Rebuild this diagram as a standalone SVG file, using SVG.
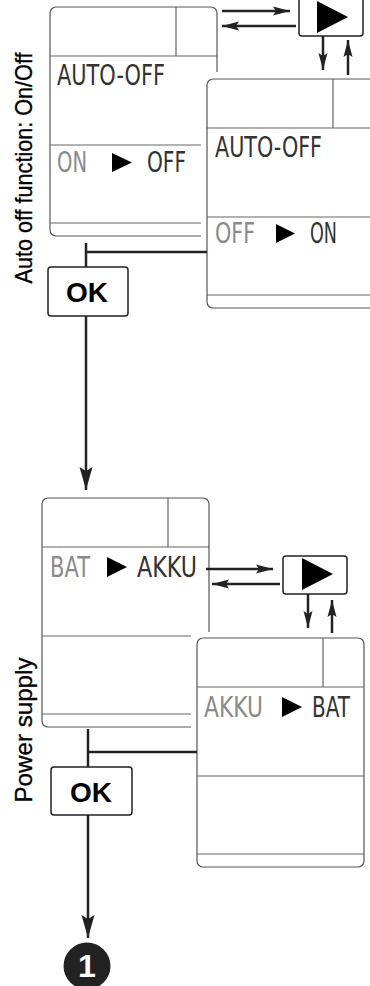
<svg xmlns="http://www.w3.org/2000/svg" width="370" height="986" viewBox="0 0 370 986">
<style>
.lcd{fill:#fff;stroke:#555;stroke-width:1.2}
.ln{stroke:#666;stroke-width:1.2;fill:none}
.halo{fill:#fff;stroke:none}
.seg{font-family:"DejaVu Sans",sans-serif;font-size:29px;fill:#333}
.dim{fill:#8a8a8a}
.tri{fill:#000}
.btn{fill:#fff;stroke:#222;stroke-width:1.5}
.ok{font-family:"Liberation Sans",Arial,sans-serif;font-weight:bold;font-size:28px;fill:#000;text-anchor:middle}
.lab{font-family:"Liberation Sans",Arial,sans-serif;font-size:24px;fill:#000;stroke:#000;stroke-width:0.3;text-anchor:middle}
.c{stroke:#222;stroke-width:2.5;fill:none}
</style>
<defs>
<marker id="as" markerUnits="userSpaceOnUse" markerWidth="18" markerHeight="10" refX="17" refY="5" orient="auto">
<path d="M0,0.5 L17,5 L0,9.5 L3,5 Z" fill="#222"/>
</marker>
<marker id="al" markerUnits="userSpaceOnUse" markerWidth="24" markerHeight="14" refX="23" refY="7" orient="auto">
<path d="M0,0.5 L23,7 L0,13.5 L4,7 Z" fill="#222"/>
</marker>
</defs>

<text class="lab" transform="translate(32,168) rotate(-90)" textLength="231" lengthAdjust="spacingAndGlyphs">Auto off function: On/Off</text>
<text class="lab" transform="translate(32,730) rotate(-90)" textLength="145" lengthAdjust="spacingAndGlyphs">Power supply</text>

<g id="lcd-auto-on">
<rect class="lcd" x="50" y="7" width="167" height="229" rx="6"/>
<line class="ln" x1="50" y1="56" x2="217" y2="56"/>
<line class="ln" x1="176" y1="7" x2="176" y2="56"/>
<line class="ln" x1="50" y1="145" x2="217" y2="145"/>
<line class="ln" x1="50" y1="223" x2="217" y2="223"/>
<text class="seg" x="57" y="85" textLength="108" lengthAdjust="spacingAndGlyphs">AUTO-OFF</text>
<text class="seg dim" x="57" y="172" textLength="30" lengthAdjust="spacingAndGlyphs">ON</text>
<polygon class="tri" points="112,153 132,162.5 112,172"/>
<text class="seg" x="147" y="172" textLength="39" lengthAdjust="spacingAndGlyphs">OFF</text>
</g>

<g id="lcd-auto-off">
<rect class="halo" x="201" y="72" width="180" height="243"/>
<rect class="lcd" x="207" y="79" width="175" height="229" rx="6"/>
<line class="ln" x1="207" y1="128" x2="382" y2="128"/>
<line class="ln" x1="333" y1="79" x2="333" y2="128"/>
<line class="ln" x1="207" y1="217" x2="382" y2="217"/>
<line class="ln" x1="207" y1="295" x2="382" y2="295"/>
<text class="seg" x="215" y="157" textLength="107" lengthAdjust="spacingAndGlyphs">AUTO-OFF</text>
<text class="seg dim" x="215" y="243" textLength="40" lengthAdjust="spacingAndGlyphs">OFF</text>
<polygon class="tri" points="276,224 295,233.5 276,243"/>
<text class="seg" x="310" y="243" textLength="27" lengthAdjust="spacingAndGlyphs">ON</text>
</g>

<g id="play-top">
<rect class="btn" x="299" y="-4" width="64" height="40" rx="3"/>
<polygon class="tri" points="317,1 348,17 317,33"/>
</g>

<g id="ok-top">
<rect class="btn" x="48" y="267" width="80" height="49" rx="3"/>
<text class="ok" x="87" y="302">OK</text>
</g>

<g id="lcd-bat-akku">
<rect class="lcd" x="42" y="498" width="167" height="229" rx="6"/>
<line class="ln" x1="42" y1="547" x2="209" y2="547"/>
<line class="ln" x1="168" y1="498" x2="168" y2="547"/>
<line class="ln" x1="42" y1="636" x2="209" y2="636"/>
<line class="ln" x1="42" y1="714" x2="209" y2="714"/>
<text class="seg dim" x="50" y="577" textLength="40" lengthAdjust="spacingAndGlyphs">BAT</text>
<polygon class="tri" points="107,557 127,567 107,577"/>
<text class="seg" x="137" y="577" textLength="60" lengthAdjust="spacingAndGlyphs">AKKU</text>
</g>

<g id="lcd-akku-bat">
<rect class="halo" x="191" y="632" width="179" height="241"/>
<rect class="lcd" x="197" y="638" width="167" height="229" rx="6"/>
<line class="ln" x1="197" y1="687" x2="364" y2="687"/>
<line class="ln" x1="323" y1="638" x2="323" y2="687"/>
<line class="ln" x1="197" y1="776" x2="364" y2="776"/>
<line class="ln" x1="197" y1="854" x2="364" y2="854"/>
<text class="seg dim" x="204" y="717" textLength="59" lengthAdjust="spacingAndGlyphs">AKKU</text>
<polygon class="tri" points="282,697 302,707 282,717"/>
<text class="seg" x="312" y="717" textLength="38" lengthAdjust="spacingAndGlyphs">BAT</text>
</g>

<g id="play-bottom">
<rect class="btn" x="283" y="556" width="64" height="38" rx="3"/>
<polygon class="tri" points="302,558 333,574 302,590"/>
</g>

<g id="ok-bottom">
<rect class="btn" x="51" y="767" width="81" height="48" rx="3"/>
<text class="ok" x="91" y="802">OK</text>
</g>

<g id="marker-1">
<circle cx="87" cy="966" r="23.5" fill="#222"/>
<text x="87" y="977" font-family="Liberation Sans,Arial,sans-serif" font-weight="bold" font-size="32" fill="#fff" text-anchor="middle">1</text>
</g>

<g id="connectors">
<line class="c" x1="222" y1="11" x2="290" y2="11" marker-end="url(#as)"/>
<line class="c" x1="296" y1="26" x2="222" y2="26" marker-end="url(#as)"/>
<line class="c" x1="323" y1="36" x2="323" y2="70" marker-end="url(#as)"/>
<line class="c" x1="348" y1="75" x2="348" y2="40" marker-end="url(#as)"/>
<line class="c" x1="86" y1="243" x2="86" y2="267"/>
<line class="c" x1="86" y1="252" x2="207" y2="252"/>
<line class="c" x1="86" y1="316" x2="86" y2="490" marker-end="url(#al)"/>
<line class="c" x1="206" y1="569" x2="273" y2="569" marker-end="url(#as)"/>
<line class="c" x1="280" y1="584" x2="212" y2="584" marker-end="url(#as)"/>
<line class="c" x1="308" y1="594" x2="308" y2="628" marker-end="url(#as)"/>
<line class="c" x1="332" y1="633" x2="332" y2="600" marker-end="url(#as)"/>
<line class="c" x1="88" y1="729" x2="88" y2="767"/>
<line class="c" x1="88" y1="752" x2="197" y2="752"/>
<line class="c" x1="88" y1="815" x2="88" y2="938" marker-end="url(#al)"/>
</g>
</svg>
